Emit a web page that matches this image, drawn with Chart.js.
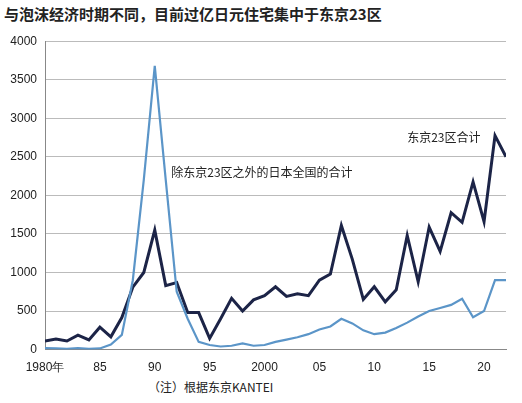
<!DOCTYPE html>
<html><head><meta charset="utf-8">
<script src="https://cdn.jsdelivr.net/npm/chart.js@4"></script>
<style>
html,body{margin:0;padding:0;background:#fff;}
#wrap{position:relative;width:522px;height:403px;}
#title{position:absolute;left:4px;top:3px;font:bold 15px "Noto Sans CJK SC";color:#222;}
#note{position:absolute;left:148px;top:378px;font:12px "Noto Sans CJK SC";color:#222;}
#c{position:absolute;left:0;top:26px;}
</style></head><body>
<div id="wrap">
<div id="title">与泡沫经济时期不同，目前过亿日元住宅集中于东京23区</div>
<canvas id="c" width="522" height="352"></canvas>
<div id="note">（注）根据东京KANTEI</div>
</div>
<script>
// -- Data --
const years = [];
for (let y = 1980; y <= 2022; y++) years.push(y);
const tokyo23 = [112, 137, 112, 187, 125, 290, 166, 415, 810, 1000, 1550, 830, 870, 480, 480, 145, 400, 665, 500, 645,
    700, 815, 690, 725, 700, 900, 980, 1610, 1170, 650, 815, 620, 775, 1480, 880, 1590, 1275, 1775, 1650, 2175, 1660, 2775, 2500];
const otherJapan = [20, 15, 10, 20, 10, 15, 65, 190, 900, 2200, 3680, 2200, 750, 400, 100, 60, 40, 50, 80, 50,
    60, 100, 130, 160, 200, 260, 300, 400, 340, 250, 200, 220, 280, 350, 430, 500, 540, 580, 660, 420, 500, 900, 900];
const tickLabels = {1980: '1980年', 1985: '85', 1990: '90', 1995: '95', 2000: '2000', 2005: '05', 2010: '10', 2015: '15', 2020: '20'};
const labels = [
    { text: '东京23区合计', x: 2013, y: 2750 },
    { text: '除东京23区之外的日本全国的合计', x: 1991.5, y: 2300 }
];

const labelPlugin = {
    id: 'labels',
    afterDatasetsDraw(chart) {
        const { ctx, scales } = chart;
        ctx.save();
        ctx.font = '12px "Noto Sans CJK SC"';
        ctx.fillStyle = '#222';
        ctx.textBaseline = 'middle';
        labels.forEach(l => ctx.fillText(l.text, scales.x.getPixelForValue(l.x), scales.y.getPixelForValue(l.y)));
        ctx.restore();
    }
};

new Chart(document.getElementById('c'), {
    type: 'line',
    data: {
        datasets: [
            { data: otherJapan.map((v, i) => ({ x: years[i], y: v })), borderColor: '#5b95c8', borderWidth: 2.2, pointRadius: 0, tension: 0 },
            { data: tokyo23.map((v, i) => ({ x: years[i], y: v })), borderColor: '#1c2447', borderWidth: 3, pointRadius: 0, tension: 0 }
        ]
    },
    options: {
        responsive: false,
        animation: false,
        layout: { padding: { right: 16, top: 6 } },
        plugins: { legend: { display: false }, tooltip: { enabled: false } },
        scales: {
            x: {
                type: 'linear', min: 1980, max: 2022,
                afterBuildTicks: axis => { axis.ticks = Object.keys(tickLabels).map(v => ({ value: +v })); },
                grid: { display: false },
                border: { color: '#888' },
                ticks: {
                    autoSkip: false, maxRotation: 0, color: '#222',
                    font: { family: 'Liberation Sans', size: 12 },
                    callback: v => tickLabels[v] || ''
                }
            },
            y: {
                min: 0, max: 4000,
                afterFit: axis => { axis.width = 45; },
                border: { color: '#888' },
                grid: { color: '#bbb', borderDash: [2, 2], drawTicks: false, lineWidth: c => c.tick.value === 0 ? 0 : 1 },
                ticks: { stepSize: 500, color: '#222', padding: 8, font: { family: 'Liberation Sans', size: 12 }, callback: v => String(v) }
            }
        }
    },
    plugins: [labelPlugin]
});
</script>
</body></html>
